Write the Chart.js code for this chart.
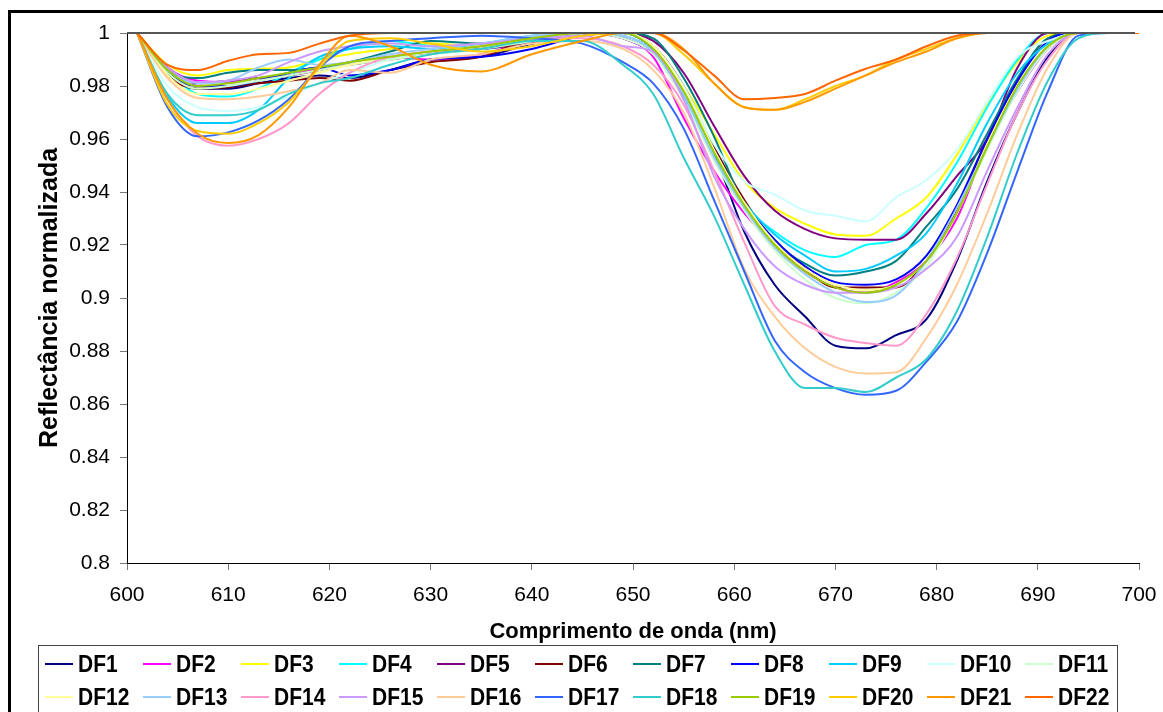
<!DOCTYPE html>
<html>
<head>
<meta charset="utf-8">
<script src="https://cdn.jsdelivr.net/npm/chart.js@4/dist/chart.umd.min.js"></script>
<style>
  html, body { margin: 0; padding: 0; background: #fff; overflow: hidden; }
  #page { position: relative; width: 1163px; height: 712px; overflow: hidden; font-family: 'Liberation Sans', Arial, sans-serif; }
  #frame { position: absolute; left: 8px; top: 10px; width: 1300px; height: 900px; border: 3px solid #000; }
  #chart { position: absolute; left: 0; top: 0; }
  #legend { position: absolute; left: 38px; top: 645px; width: 1080px; height: 120px; border: 1px solid #444;
            box-sizing: border-box; padding-top: 1px; display: grid; grid-template-columns: repeat(11, 98px); grid-auto-rows: 33px; }
  .item { display: flex; align-items: center; font-weight: bold; font-size: 21px; color: #000; white-space: nowrap; }
  .item i { display: block; width: 28px; height: 2px; margin: 0 5px 0 6px; }
  .item span { display: inline-block; transform: scaleY(1.12); }
</style>
</head>
<body>
<div id="page">
  <div id="frame"></div>
  <canvas id="chart" width="1163" height="712"></canvas>
  <div id="legend"></div>
</div>
<script>
// wavelength samples (nm)
const wavelength = [601, 604, 607, 610, 613, 616, 619, 622, 626, 630, 635, 640, 645, 649, 652, 655,
                    658, 661, 664, 667, 670, 673, 676, 679, 682, 685, 688, 691, 694, 697, 700];

// normalised reflectance per sample
const DF1  = [1, 0.985, 0.979, 0.979, 0.981, 0.983, 0.984, 0.983, 0.986, 0.990, 0.991, 0.996, 1, 0.998, 0.992, 0.977, 0.955, 0.925, 0.905, 0.893, 0.882, 0.881, 0.886, 0.892, 0.914, 0.944, 0.970, 0.991, 1, 1, 1];
const DF2  = [1, 0.987, 0.982, 0.9815, 0.983, 0.984, 0.987, 0.989, 0.991, 0.990, 0.992, 0.997, 1, 0.998, 0.991, 0.968, 0.948, 0.932, 0.920, 0.910, 0.904, 0.902, 0.906, 0.914, 0.930, 0.958, 0.978, 0.994, 1, 1, 1];
const DF3  = [1, 0.988, 0.984, 0.986, 0.9865, 0.987, 0.990, 0.992, 0.994, 0.996, 0.995, 0.998, 1, 1, 0.995, 0.980, 0.962, 0.944, 0.934, 0.928, 0.924, 0.9235, 0.930, 0.938, 0.954, 0.973, 0.989, 0.999, 1, 1, 1];
const DF4  = [1, 0.986, 0.977, 0.976, 0.979, 0.985, 0.990, 0.994, 0.997, 0.995, 0.994, 0.997, 1, 1, 0.994, 0.978, 0.955, 0.935, 0.925, 0.918, 0.9155, 0.920, 0.922, 0.934, 0.951, 0.972, 0.990, 1, 1, 1, 1];
const DF5  = [1, 0.987, 0.981, 0.982, 0.983, 0.984, 0.986, 0.988, 0.990, 0.992, 0.994, 0.996, 1, 1, 0.997, 0.985, 0.965, 0.946, 0.933, 0.926, 0.9225, 0.922, 0.922, 0.932, 0.946, 0.960, 0.987, 1, 1, 1, 1];
const DF6  = [1, 0.984, 0.979, 0.9795, 0.981, 0.982, 0.983, 0.982, 0.986, 0.989, 0.991, 0.998, 1, 1, 0.995, 0.980, 0.957, 0.937, 0.921, 0.911, 0.904, 0.904, 0.904, 0.914, 0.933, 0.960, 0.982, 0.998, 1, 1, 1];
const DF7  = [1, 0.986, 0.983, 0.985, 0.986, 0.986, 0.987, 0.989, 0.993, 0.997, 0.996, 0.998, 1, 1, 0.998, 0.983, 0.961, 0.935, 0.921, 0.913, 0.9085, 0.910, 0.914, 0.927, 0.941, 0.962, 0.983, 0.998, 1, 1, 1];
const DF8  = [1, 0.985, 0.980, 0.980, 0.982, 0.985, 0.987, 0.984, 0.986, 0.990, 0.991, 0.994, 0.999, 1, 0.994, 0.978, 0.956, 0.936, 0.922, 0.912, 0.906, 0.905, 0.907, 0.916, 0.935, 0.960, 0.982, 0.997, 1, 1, 1];
const DF9  = [1, 0.976, 0.966, 0.966, 0.971, 0.983, 0.991, 0.994, 0.995, 0.994, 0.996, 0.999, 1, 0.999, 0.993, 0.976, 0.953, 0.936, 0.924, 0.916, 0.910, 0.911, 0.916, 0.9245, 0.943, 0.966, 0.985, 0.996, 1, 1, 1];
const DF10 = [1, 0.980, 0.972, 0.9706, 0.972, 0.976, 0.981, 0.985, 0.990, 0.993, 0.995, 0.998, 1, 1, 0.995, 0.980, 0.958, 0.944, 0.939, 0.933, 0.931, 0.929, 0.938, 0.9445, 0.956, 0.974, 0.991, 0.997, 1, 1, 1];
const DF11 = [1, 0.985, 0.979, 0.980, 0.982, 0.984, 0.986, 0.988, 0.990, 0.992, 0.994, 0.997, 1, 0.998, 0.992, 0.975, 0.952, 0.933, 0.918, 0.907, 0.900, 0.898, 0.902, 0.912, 0.932, 0.956, 0.978, 0.994, 1, 1, 1];
const DF12 = [1, 0.984, 0.977, 0.977, 0.979, 0.982, 0.985, 0.988, 0.991, 0.993, 0.995, 0.998, 1, 1, 0.995, 0.979, 0.956, 0.936, 0.921, 0.911, 0.905, 0.903, 0.905, 0.914, 0.932, 0.958, 0.980, 0.995, 1, 1, 1];
const DF13 = [1, 0.986, 0.981, 0.982, 0.987, 0.990, 0.988, 0.989, 0.992, 0.994, 0.996, 0.999, 1, 0.999, 0.993, 0.977, 0.953, 0.934, 0.919, 0.909, 0.902, 0.8985, 0.901, 0.914, 0.934, 0.957, 0.979, 0.995, 1, 1, 1];
const DF14 = [1, 0.975, 0.961, 0.9575, 0.960, 0.966, 0.977, 0.985, 0.991, 0.993, 0.995, 0.998, 0.998, 0.995, 0.988, 0.973, 0.948, 0.921, 0.897, 0.890, 0.885, 0.883, 0.882, 0.894, 0.915, 0.943, 0.970, 0.990, 1, 1, 1];
const DF15 = [1, 0.987, 0.9815, 0.982, 0.984, 0.989, 0.993, 0.995, 0.996, 0.995, 0.996, 0.998, 0.999, 0.995, 0.993, 0.975, 0.946, 0.926, 0.912, 0.905, 0.902, 0.902, 0.904, 0.911, 0.923, 0.948, 0.972, 0.992, 1, 1, 1];
const DF16 = [1, 0.983, 0.9755, 0.975, 0.976, 0.978, 0.981, 0.986, 0.985, 0.990, 0.992, 0.996, 0.997, 0.994, 0.986, 0.970, 0.942, 0.911, 0.893, 0.881, 0.874, 0.8715, 0.872, 0.885, 0.905, 0.932, 0.962, 0.987, 1, 1, 1];
const DF17 = [1, 0.972, 0.961, 0.9625, 0.967, 0.975, 0.987, 0.995, 0.997, 0.998, 0.999, 0.998, 0.996, 0.989, 0.981, 0.964, 0.937, 0.910, 0.884, 0.872, 0.866, 0.8635, 0.865, 0.876, 0.891, 0.917, 0.948, 0.978, 0.999, 1, 1];
const DF18 = [1, 0.977, 0.969, 0.969, 0.971, 0.977, 0.981, 0.983, 0.988, 0.992, 0.994, 0.997, 0.997, 0.988, 0.977, 0.953, 0.931, 0.905, 0.880, 0.866, 0.866, 0.8645, 0.870, 0.877, 0.895, 0.923, 0.955, 0.982, 0.998, 1, 1];
const DF19 = [1, 0.986, 0.980, 0.981, 0.983, 0.985, 0.987, 0.989, 0.991, 0.993, 0.995, 0.998, 1, 1, 0.994, 0.978, 0.955, 0.935, 0.920, 0.910, 0.904, 0.902, 0.905, 0.914, 0.932, 0.957, 0.980, 0.995, 1, 1, 1];
const DF20 = [1, 0.973, 0.963, 0.962, 0.966, 0.974, 0.987, 0.997, 0.998, 0.996, 0.993, 0.995, 0.999, 1, 1, 0.992, 0.981, 0.972, 0.971, 0.975, 0.980, 0.984, 0.990, 0.994, 0.998, 1, 1, 1, 1, 1, 1];
const DF21 = [1, 0.975, 0.962, 0.9585, 0.9615, 0.972, 0.988, 0.999, 0.995, 0.988, 0.9855, 0.992, 0.997, 1, 1, 0.994, 0.981, 0.972, 0.971, 0.974, 0.979, 0.984, 0.989, 0.993, 0.998, 1, 1, 1, 1, 1, 1];
const DF22 = [1, 0.988, 0.986, 0.9895, 0.992, 0.9925, 0.996, 0.999, 1, 1, 1, 1, 1, 1, 1, 0.9935, 0.984, 0.975, 0.9755, 0.977, 0.982, 0.9865, 0.990, 0.995, 0.999, 1, 1, 1, 1, 1, 1];

const seriesNames = ['DF1', 'DF2', 'DF3', 'DF4', 'DF5', 'DF6', 'DF7', 'DF8', 'DF9', 'DF10', 'DF11',
                     'DF12', 'DF13', 'DF14', 'DF15', 'DF16', 'DF17', 'DF18', 'DF19', 'DF20', 'DF21', 'DF22'];
const seriesValues = [DF1, DF2, DF3, DF4, DF5, DF6, DF7, DF8, DF9, DF10, DF11,
                      DF12, DF13, DF14, DF15, DF16, DF17, DF18, DF19, DF20, DF21, DF22];

const xTicks = [600, 610, 620, 630, 640, 650, 660, 670, 680, 690, 700];
const yTicks = [0.8, 0.82, 0.84, 0.86, 0.88, 0.9, 0.92, 0.94, 0.96, 0.98, 1];

// classic office line palette
const lineColors = ['#000080', '#FF00FF', '#FFFF00', '#00FFFF', '#800080', '#800000', '#008080', '#0000FF',
                    '#00CCFF', '#CCFFFF', '#CCFFCC', '#FFFF99', '#99CCFF', '#FF99CC', '#CC99FF', '#FFCC99',
                    '#3366FF', '#33CCCC', '#99CC00', '#FFCC00', '#FF9900', '#FF6600'];

const FONT = "'Liberation Sans', Arial, sans-serif";

const datasets = seriesNames.map((name, i) => ({
  label: name,
  data: wavelength.map((x, k) => ({ x: x, y: seriesValues[i][k] })),
  borderColor: lineColors[i],
  borderWidth: 2,
  pointRadius: 0,
  fill: false,
  cubicInterpolationMode: 'monotone',
  order: seriesNames.length - i   // later series on top
}));

// grey rule along the top of the plot area
const topRule = {
  id: 'topRule',
  afterDatasetsDraw(chart) {
    const { ctx, chartArea: a } = chart;
    ctx.save();
    ctx.strokeStyle = '#555';
    ctx.lineWidth = 2;
    ctx.beginPath();
    ctx.moveTo(a.left, a.top);
    ctx.lineTo(a.right - 4, a.top);
    ctx.stroke();
    ctx.restore();
  }
};

new Chart(document.getElementById('chart'), {
  type: 'line',
  data: { datasets },
  plugins: [topRule],
  options: {
    responsive: false,
    animation: false,
    layout: { padding: { left: 0, right: 24, top: 33, bottom: 67 } },
    plugins: { legend: { display: false }, tooltip: { enabled: false } },
    scales: {
      x: {
        type: 'linear', min: 600, max: 700,
        afterBuildTicks: s => { s.ticks = xTicks.map(v => ({ value: v })); },
        afterFit: s => { s.height = 82; },
        // tall line box pushes the labels down instead of tick padding
        ticks: { color: '#000', font: { family: FONT, size: 21, lineHeight: 2.4 }, padding: 0, maxRotation: 0, autoSkip: false },
        grid: { drawOnChartArea: false, tickLength: 7, tickColor: '#777' },
        border: { color: '#000', width: 1 },
        title: { display: true, text: 'Comprimento de onda (nm)', color: '#000',
                 font: { family: FONT, size: 22, weight: 'bold' }, padding: { top: 4, bottom: 0 } }
      },
      y: {
        type: 'linear', min: 0.8, max: 1,
        afterBuildTicks: s => { s.ticks = yTicks.map(v => ({ value: v })); },
        afterFit: s => { s.width = 127; },
        ticks: { color: '#000', font: { family: FONT, size: 21 }, padding: 10,
                 callback: v => String(+v.toFixed(2)) },
        grid: { drawOnChartArea: false, tickLength: 7, tickColor: '#777' },
        border: { color: '#000', width: 1 },
        title: { display: true, text: 'Reflectância normalizada', color: '#000',
                 font: { family: FONT, size: 25, weight: 'bold' }, padding: { top: 35, bottom: 0 } }
      }
    }
  }
});

// legend: 11 entries per row
const legend = document.getElementById('legend');
seriesNames.forEach((name, i) => {
  const item = document.createElement('div');
  item.className = 'item';
  const swatch = document.createElement('i');
  swatch.style.background = lineColors[i];
  const label = document.createElement('span');
  label.textContent = name;
  item.appendChild(swatch);
  item.appendChild(label);
  legend.appendChild(item);
});
</script>
</body>
</html>
